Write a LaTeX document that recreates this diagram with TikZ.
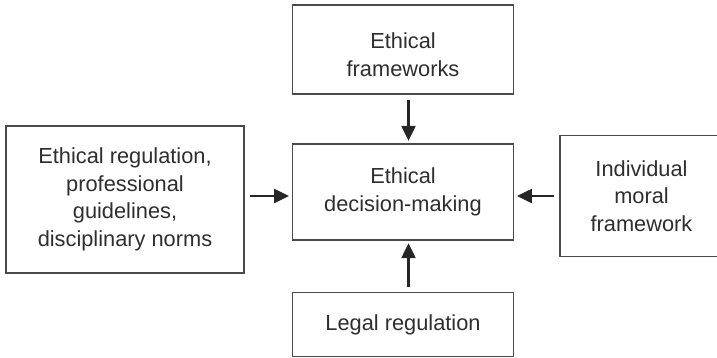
\documentclass[tikz,border=0pt]{standalone}
\usepackage{fontspec}
\setmainfont{Liberation Sans}
\usepackage{xcolor}
\usetikzlibrary{arrows.meta}

\definecolor{boxgray}{HTML}{4A4A4A}
\definecolor{textgray}{HTML}{2E2E2E}

\begin{document}
\begin{tikzpicture}[x=1pt,y=-1pt,
        box/.style={draw=boxgray,line width=1.3pt,inner sep=0pt,align=center,text=textgray,
            font=\fontsize{21.8}{27.5}\selectfont},
        arr/.style={-{Triangle[length=15pt,width=14pt]},line width=2.2pt,black!85,
            shorten <=5pt,shorten >=2.5pt}]
        \useasboundingbox (0,0) rectangle (717,357);

        \coordinate (T) at (403,49.5);
        \coordinate (M) at (403,192);
        \coordinate (L) at (125,199.5);
        \coordinate (R) at (641.5,196.2);
        \coordinate (B) at (403,324.5);

        \node[box,minimum width=221.5pt,minimum height=89pt,text height=53pt,text depth=0pt] (frameworks) at (T) {Ethical\\frameworks};
        \node[box,minimum width=221.5pt,minimum height=96pt]  (decision)   at (M) {Ethical\\decision-making};
        \node[box,minimum width=238pt,minimum height=147pt]   (regulation) at (L) {Ethical regulation,\\professional\\guidelines,\\disciplinary norms};
        \node[box,minimum width=163pt,minimum height=121pt]   (individual) at (R) {Individual\\moral\\framework};
        \node[box,minimum width=221.5pt,minimum height=64.5pt] (legal)     at (B) {Legal regulation};

        \draw[arr] ([xshift=5.5pt]frameworks.south) -- ([xshift=5.5pt]decision.north);
        \draw[arr] ([xshift=5.5pt]legal.north) -- ([xshift=5.5pt]decision.south);
        \draw[arr] (regulation.east |- 0,196) -- (decision.west |- 0,196);
        \draw[arr] (individual.west |- 0,196) -- (decision.east |- 0,196);
    \end{tikzpicture}
\end{document}
